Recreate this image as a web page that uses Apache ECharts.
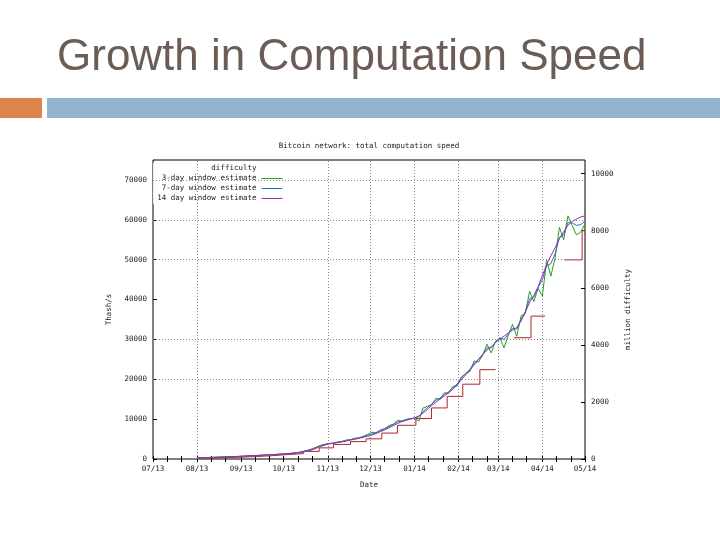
<!DOCTYPE html>
<html>
<head>
<meta charset="utf-8">
<script src="https://cdn.jsdelivr.net/npm/echarts@6/dist/echarts.min.js"></script>
<style>
  html, body { margin: 0; padding: 0; background: #fff; }
  #chart { width: 720px; height: 540px; }
</style>
</head>
<body>
<div id="chart"></div>
<script>
// sample dates for the three hash-rate estimates
const dates = [
  '2013-08-01','2013-08-04','2013-08-07','2013-08-10','2013-08-13','2013-08-16','2013-08-19','2013-08-22','2013-08-25','2013-08-28','2013-08-31',
  '2013-09-03','2013-09-06','2013-09-09','2013-09-12','2013-09-15','2013-09-18','2013-09-21','2013-09-24','2013-09-27','2013-09-30',
  '2013-10-03','2013-10-06','2013-10-09','2013-10-12','2013-10-15','2013-10-18','2013-10-21','2013-10-24','2013-10-27','2013-10-30',
  '2013-11-02','2013-11-05','2013-11-08','2013-11-11','2013-11-14','2013-11-17','2013-11-20','2013-11-23','2013-11-26','2013-11-29',
  '2013-12-02','2013-12-05','2013-12-08','2013-12-11','2013-12-14','2013-12-17','2013-12-20','2013-12-23','2013-12-26','2013-12-29',
  '2014-01-01','2014-01-04','2014-01-07','2014-01-10','2014-01-13','2014-01-16','2014-01-19','2014-01-22','2014-01-25','2014-01-28','2014-01-31',
  '2014-02-03','2014-02-06','2014-02-09','2014-02-12','2014-02-15','2014-02-18','2014-02-21','2014-02-24','2014-02-27',
  '2014-03-02','2014-03-05','2014-03-08','2014-03-11','2014-03-14','2014-03-17','2014-03-20','2014-03-23','2014-03-26','2014-03-29',
  '2014-04-01','2014-04-04','2014-04-07','2014-04-10','2014-04-13','2014-04-16','2014-04-19','2014-04-22','2014-04-25','2014-04-28',
  '2014-05-01'
];

// Thash/s
const est3day = [
  310, 330, 340, 400, 400, 460, 490, 540, 560, 630, 660,
  720, 760, 850, 860, 950, 990, 1060, 1100, 1200, 1250,
  1350, 1400, 1550, 1700, 1950, 2200, 2550, 3000, 3450, 3700,
  3900, 3950, 4300, 4400, 4750, 4850, 5200, 5300, 5700, 6200,
  6700, 6500, 7300, 7600, 8400, 8700, 9700, 9500, 9900, 10100,
  10200, 9500, 12800, 13200, 13600, 15200, 15000, 16600, 16500, 18200, 18300,
  20600, 21400, 22000, 24600, 24300, 26000, 28800, 26600, 29500,
  30400, 27900, 31000, 33800, 30800, 35900, 36500, 42100, 39500, 42800,
  40900, 49800, 45900, 50500, 58100, 55000, 61000, 58500, 56200, 56900,
  59000
];
const est7day = [
  305, 330, 355, 390, 420, 455, 495, 545, 580, 625, 665,
  720, 775, 835, 880, 940, 995, 1055, 1110, 1180, 1250,
  1330, 1420, 1530, 1680, 1900, 2150, 2480, 2900, 3350, 3650,
  3900, 4000, 4200, 4400, 4650, 4850, 5100, 5300, 5600, 5950,
  6300, 6650, 7100, 7550, 8100, 8650, 9250, 9550, 9850, 10100,
  10250, 10600, 11900, 12900, 13700, 14700, 15300, 16200, 16800, 17900, 18800,
  20300, 21400, 22500, 24000, 25000, 26200, 27900, 27900, 29300,
  30400, 30000, 31300, 32800, 32600, 35000, 37000, 40200, 40600, 43000,
  45000, 48500, 49000, 51500, 55600, 56200, 59300, 59200, 58600, 58800,
  59700
];
const est14day = [
  300, 320, 350, 380, 410, 440, 480, 530, 570, 610, 650,
  700, 760, 820, 870, 920, 980, 1040, 1090, 1150, 1230,
  1300, 1380, 1480, 1600, 1800, 2050, 2300, 2700, 3150, 3500,
  3800, 3950, 4100, 4300, 4500, 4750, 4950, 5200, 5450, 5700,
  6000, 6400, 6850, 7300, 7800, 8350, 8900, 9350, 9700, 10000,
  10300, 10800, 11500, 12400, 13400, 14200, 15000, 15800, 16600, 17500, 18600,
  19900, 21100, 22300, 23600, 24900, 26200, 27300, 28200, 29200,
  30000, 30800, 31600, 32300, 33000, 34600, 36800, 39300, 41000, 43200,
  46000, 48800, 51000, 53000, 55300, 57000, 58600, 59600, 60200, 60700,
  61000
];

// difficulty (million), each value holds until the next date; null = not plotted
const diffDates = [
  '2013-08-01','2013-08-02','2013-08-13','2013-08-23','2013-09-02','2013-09-12','2013-09-22',
  '2013-10-02','2013-10-15','2013-10-26','2013-11-05','2013-11-17','2013-11-28','2013-12-09',
  '2013-12-20','2014-01-02','2014-01-13','2014-01-24','2014-02-04','2014-02-16','2014-02-27',
  '2014-03-12','2014-03-24','2014-04-03','2014-04-17','2014-04-29','2014-05-01'
];
const diffValues = [
  31.3, 37.4, 50.8, 65.8, 86.9, 112.6, 148.8,
  189.0, 267.7, 390.6, 510.9, 609.5, 707.4, 908.1,
  1180.9, 1418.5, 1789.5, 2193.8, 2621.7, 3129.6, null,
  4250.2, 5006.9, null, 6978.8, 8000.9, null
];

const monthTicks = [
  '2013-07-01','2013-08-01','2013-09-01','2013-10-01','2013-11-01','2013-12-01',
  '2014-01-01','2014-02-01','2014-03-01','2014-04-01','2014-05-01'
];
const minorTicks = [
  '2013-07-11','2013-07-21','2013-08-11','2013-08-21','2013-09-11','2013-09-21',
  '2013-10-11','2013-10-21','2013-11-11','2013-11-21','2013-12-11','2013-12-21',
  '2014-01-11','2014-01-21','2014-02-11','2014-02-21','2014-03-11','2014-03-21',
  '2014-04-11','2014-04-21'
];
const gridMonths = ['2013-08-01','2013-11-01','2013-12-01','2014-01-01','2014-02-01','2014-03-01','2014-04-01'];
const gridValues = [20000, 30000, 50000, 60000, 70000];

const hashMax = 75000;
const hashPerMillionDiff = 7.158;

const MONO = '"DejaVu Sans Mono", "Liberation Mono", monospace';
const INK = '#222';

const ts = s => Date.parse(s + 'T00:00:00Z');
const pad = n => (n < 10 ? '0' : '') + n;
const fmtMonth = v => {
  const d = new Date(v);
  return pad(d.getUTCMonth() + 1) + '/' + pad(d.getUTCFullYear() % 100);
};

const series3 = dates.map((d, i) => [ts(d), est3day[i]]);
const series7 = dates.map((d, i) => [ts(d), est7day[i]]);
const series14 = dates.map((d, i) => [ts(d), est14day[i]]);

const diffData = [];
for (let i = 0; i < diffValues.length - 1; i++) {
  const v = diffValues[i];
  if (v == null) {
    diffData.push([ts(diffDates[i]), '-']);
    continue;
  }
  diffData.push([ts(diffDates[i]), v]);
  diffData.push([ts(diffDates[i + 1]), v]);
}

const labelStamps = monthTicks.map(ts);
const tickStamps = monthTicks.concat(minorTicks).map(ts);
const xMin = ts('2013-07-01');
const xMax = ts('2014-05-01');

const chart = echarts.init(document.getElementById('chart'));

const txt = { fontFamily: MONO, fontSize: 7.5, color: INK };

chart.setOption({
  animation: false,
  backgroundColor: '#fff',
  graphic: [
    {
      type: 'text', x: 57, y: 58,
      style: {
        text: 'Growth in Computation Speed',
        font: '44px "Liberation Sans", Arial, sans-serif',
        fill: '#6b5d56', verticalAlign: 'middle'
      }
    },
    { type: 'rect', shape: { x: 0, y: 98, width: 42, height: 20 }, style: { fill: '#de844a' } },
    { type: 'rect', shape: { x: 47, y: 98, width: 673, height: 20 }, style: { fill: '#93b4d0' } },
    {
      type: 'text', x: 369, y: 146,
      style: {
        text: 'Bitcoin network: total computation speed',
        font: '7.5px ' + MONO, fill: INK, align: 'center', verticalAlign: 'middle'
      }
    }
  ],
  grid: {
    left: 153, right: 135, top: 160, bottom: 81,
    show: true, borderColor: '#000', borderWidth: 1, backgroundColor: 'transparent'
  },
  legend: {
    orient: 'vertical', align: 'right',
    right: 435, top: 163, padding: [1, 2, 1, 4],
    backgroundColor: '#fff',
    itemWidth: 21, itemHeight: 9, itemGap: 1,
    itemStyle: { opacity: 0 },
    lineStyle: { width: 1 },
    textStyle: Object.assign({ lineHeight: 9 }, txt),
    data: [
      { name: 'difficulty', itemStyle: { opacity: 0 }, lineStyle: { opacity: 0 } },
      '3-day window estimate', '7-day window estimate', '14 day window estimate'
    ]
  },
  xAxis: [
    {
      type: 'value', min: xMin, max: xMax,
      axisLine: { show: false },
      axisTick: { show: true, inside: true, length: 3, customValues: tickStamps, lineStyle: { color: '#000' } },
      axisLabel: Object.assign({ customValues: labelStamps, formatter: fmtMonth, margin: 6, hideOverlap: false }, txt),
      splitLine: { show: false },
      name: 'Date', nameLocation: 'middle', nameGap: 22, nameTextStyle: txt
    },
    {
      type: 'value', min: xMin, max: xMax, position: 'top',
      axisLine: { show: false },
      axisTick: { show: true, inside: true, length: 3, customValues: tickStamps, lineStyle: { color: '#000' } },
      axisLabel: { show: false },
      splitLine: { show: false }
    }
  ],
  yAxis: [
    {
      type: 'value', min: 0, max: hashMax, interval: 10000,
      axisLine: { show: false },
      axisTick: { show: true, inside: true, length: 4, lineStyle: { color: '#000' } },
      axisLabel: Object.assign({ formatter: v => String(v), margin: 6, showMaxLabel: false }, txt),
      splitLine: { show: false },
      name: 'Thash/s', nameLocation: 'middle', nameGap: 34, nameRotate: 90, nameTextStyle: txt
    },
    {
      type: 'value', min: 0, max: hashMax / hashPerMillionDiff, interval: 2000,
      axisLine: { show: false },
      axisTick: { show: true, inside: true, length: 4, lineStyle: { color: '#000' } },
      axisLabel: Object.assign({ formatter: v => String(v), margin: 6, showMaxLabel: false }, txt),
      splitLine: { show: false },
      name: 'million difficulty', nameLocation: 'middle', nameGap: 33, nameRotate: 90, nameTextStyle: txt
    }
  ],
  series: [
    {
      name: 'gridlines', type: 'line', data: [], z: 1, silent: true,
      markLine: {
        silent: true, symbol: 'none', label: { show: false },
        lineStyle: { color: '#8a8a8a', type: [1, 2], width: 1 },
        data: gridMonths.map(m => ({ xAxis: ts(m) })).concat(gridValues.map(v => ({ yAxis: v })))
      }
    },
    {
      name: 'difficulty', type: 'line', yAxisIndex: 1, data: diffData, z: 2,
      symbol: 'none', connectNulls: false,
      lineStyle: { color: '#b3222b', width: 1 }, itemStyle: { color: '#b3222b' }
    },
    {
      name: '3-day window estimate', type: 'line', data: series3, z: 3,
      symbol: 'none', lineStyle: { color: '#27a02a', width: 1 }, itemStyle: { color: '#27a02a' }
    },
    {
      name: '7-day window estimate', type: 'line', data: series7, z: 4,
      symbol: 'none', lineStyle: { color: '#2f70ad', width: 1 }, itemStyle: { color: '#2f70ad' }
    },
    {
      name: '14 day window estimate', type: 'line', data: series14, z: 5,
      symbol: 'none', lineStyle: { color: '#9a2bb5', width: 1 }, itemStyle: { color: '#9a2bb5' }
    }
  ]
});
</script>
</body>
</html>
